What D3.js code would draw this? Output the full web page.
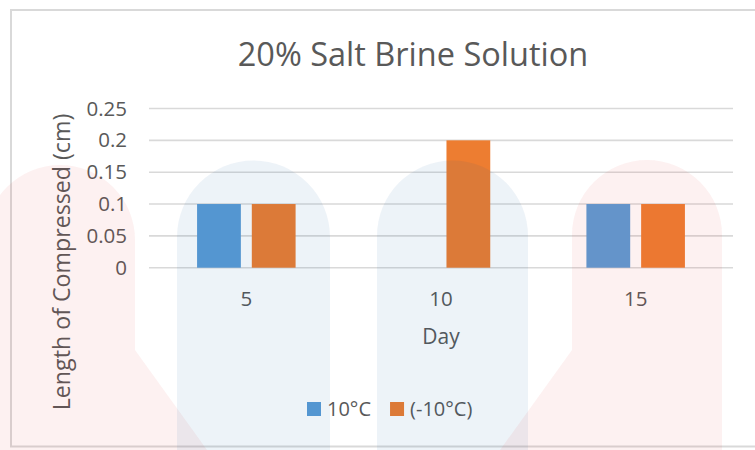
<!DOCTYPE html>
<html>
<head>
<meta charset="utf-8">
<script src="https://cdn.jsdelivr.net/npm/d3@7"></script>
<style>
  html, body { margin: 0; padding: 0; background: #ffffff; }
  svg { display: block; }
  text { font-family: "Open Sans", "Noto Sans", sans-serif; fill: #595959; }
</style>
</head>
<body>
<svg id="chart" width="755" height="450"></svg>
<script>
// Compression length per day of exposure, two storage temperatures
const days = ["5", "10", "15"];
const seriesNames = ["10°C", "(-10°C)"];
const warmValues = [0.1, 0, 0.1];
const coldValues = [0.1, 0.2, 0.1];
const yTicks = [0, 0.05, 0.1, 0.15, 0.2, 0.25];
const yTickLabels = ["0", "0.05", "0.1", "0.15", "0.2", "0.25"];
const colors = ["#5b9bd5", "#ed7d31"];

const svg = d3.select("#chart");
const W = 755, H = 450;
const plot = { left: 149, right: 733, top: 108.5, bottom: 267.7 };

// chart frame
svg.append("rect")
  .attr("x", 11).attr("y", 10)
  .attr("width", 760).attr("height", 436.5)
  .attr("fill", "#ffffff")
  .attr("stroke", "#d9d9d9").attr("stroke-width", 2);

const x = d3.scaleBand().domain(days).range([plot.left, plot.right]).padding(0);
const bw = x.bandwidth();
const x1 = d3.scaleBand().domain(seriesNames)
  .range([bw * 0.247, bw * 0.753]).paddingInner(0.2).paddingOuter(0);
const y = d3.scaleLinear().domain([0, 0.25]).range([plot.bottom, plot.top]);

// horizontal gridlines
svg.append("g").selectAll("line").data(yTicks).join("line")
  .attr("x1", plot.left).attr("x2", plot.right)
  .attr("y1", d => y(d)).attr("y2", d => y(d))
  .attr("stroke", "#d9d9d9").attr("stroke-width", 1.6);

// bars
const rows = days.map((d, i) => ({ day: d, vals: [warmValues[i], coldValues[i]] }));
svg.append("g").selectAll("g").data(rows).join("g")
  .attr("transform", d => `translate(${x(d.day)},0)`)
  .selectAll("rect")
  .data(d => d.vals.map((v, k) => ({ key: seriesNames[k], v, k })))
  .join("rect")
  .attr("x", d => x1(d.key))
  .attr("width", x1.bandwidth())
  .attr("y", d => y(d.v))
  .attr("height", d => y(0) - y(d.v))
  .attr("fill", d => colors[d.k]);

// y axis labels
const yAxis = svg.append("g")
  .attr("transform", `translate(${plot.left},0)`)
  .call(d3.axisLeft(y).tickValues(yTicks).tickFormat((d, i) => yTickLabels[i])
    .tickSize(0).tickPadding(22));
yAxis.select(".domain").remove();
yAxis.selectAll("text").style("font-size", "20.5px").attr("fill", "#595959")
  .style("font-family", "'Open Sans', sans-serif");

// x axis labels
const xAxis = svg.append("g")
  .attr("transform", `translate(0,${plot.bottom})`)
  .call(d3.axisBottom(x).tickSize(0).tickPadding(24));
xAxis.select(".domain").remove();
xAxis.selectAll("text").style("font-size", "20.5px").attr("fill", "#595959")
  .style("font-family", "'Open Sans', sans-serif");

// title and axis titles
svg.append("text")
  .attr("x", 413).attr("y", 65.5)
  .attr("text-anchor", "middle")
  .style("font-size", "32.5px")
  .text("20% Salt Brine Solution");

svg.append("text")
  .attr("x", (plot.left + plot.right) / 2).attr("y", 344)
  .attr("text-anchor", "middle")
  .style("font-size", "21px")
  .text("Day");

svg.append("text")
  .attr("transform", "translate(70,262) rotate(-90)")
  .attr("text-anchor", "middle")
  .style("font-size", "23.2px")
  .text("Length of Compressed (cm)");

// legend
const legend = svg.append("g").attr("transform", "translate(307,402)");
let lx = 0;
seriesNames.forEach((name, i) => {
  const item = legend.append("g").attr("transform", `translate(${lx},0)`);
  item.append("rect").attr("width", 14).attr("height", 14).attr("fill", colors[i]);
  const t = item.append("text").attr("x", 20).attr("y", 14)
    .style("font-size", "20px").text(name);
  lx += 20 + t.node().getComputedTextLength() + 19;
});

// faint logo watermark laid over the chart
const mark = svg.append("g").attr("pointer-events", "none");
const red = "rgba(230,60,60,0.07)";
const blue = "rgba(0,84,155,0.07)";
mark.append("path").attr("fill", red)
  .attr("d", "M-15,450 L-15,240 A75,75 0 0 1 135,240 L135,350 L207,450 Z");
mark.append("path").attr("fill", blue)
  .attr("d", "M177,450 L177,237 A76.5,76.5 0 0 1 330,237 L330,450 Z");
mark.append("path").attr("fill", blue)
  .attr("d", "M377,450 L377,236 A75.5,75.5 0 0 1 528,236 L528,450 Z");
mark.append("path").attr("fill", red)
  .attr("d", "M500,450 L572,350 L572,235 A75,75 0 0 1 722,235 L722,450 Z");
</script>
</body>
</html>
